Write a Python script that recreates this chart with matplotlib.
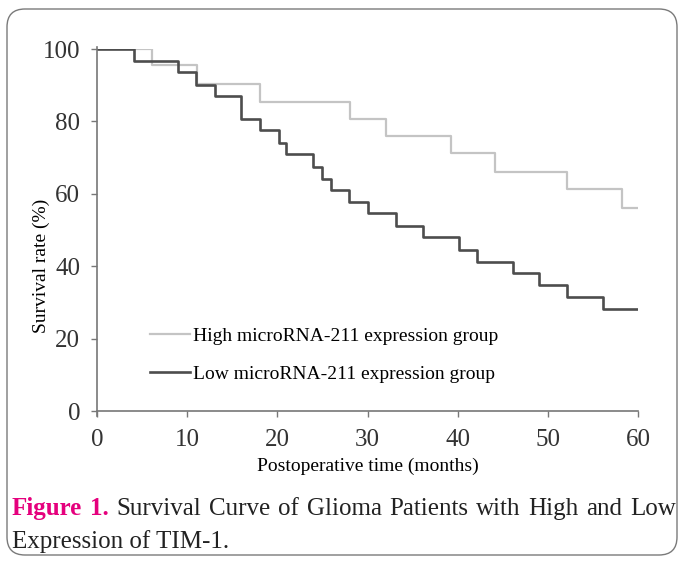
import matplotlib
matplotlib.use('Agg')
import matplotlib.pyplot as plt
from matplotlib.patches import FancyBboxPatch
from matplotlib.transforms import IdentityTransform

# ---- data ----
high_t = [0, 6.1, 11.1, 18.1, 28.1, 32.1, 39.3, 44.1, 52.1, 58.2]
high_s = [100, 95.6, 90.3, 85.4, 80.6, 76.0, 71.2, 66.1, 61.2, 56.2]
low_t = [0, 4.1, 9.0, 11.0, 13.1, 16.0, 18.1, 20.2, 21.0, 24.0, 24.9, 26.0,
         28.0, 30.1, 33.2, 36.1, 40.1, 42.1, 46.1, 49.0, 52.1, 56.1]
low_s = [100, 96.8, 93.6, 90.0, 87.0, 80.7, 77.6, 74.1, 71.0, 67.5, 64.2, 61.0,
         57.8, 54.6, 51.0, 48.0, 44.5, 41.2, 38.0, 34.8, 31.6, 28.1]
end_time = 60
high_label = "High microRNA-211 expression group"
low_label = "Low microRNA-211 expression group"
x_ticks = [0, 10, 20, 30, 40, 50, 60]
y_ticks = [0, 20, 40, 60, 80, 100]
xlabel = "Postoperative time (months)"
ylabel = "Survival rate (%)"
caption_bold = ["Figure", "1."]
caption_line1 = ["Survival", "Curve", "of", "Glioma", "Patients", "with", "High", "and", "Low"]
caption_line2 = "Expression of TIM-1."

plt.rcParams['font.family'] = ['Liberation Serif', 'DejaVu Serif']

W, H = 678, 561
fig = plt.figure(figsize=(W / 100, H / 100), dpi=100)
fig.patch.set_facecolor('white')

ax = fig.add_axes([97 / W, 1 - 411 / H, (638 - 97) / W, (411 - 49) / H])
ax.step(high_t + [end_time], high_s + [high_s[-1]], where='post',
        color='#c4c4c4', lw=1.6, label=high_label)
ax.step(low_t + [end_time], low_s + [low_s[-1]], where='post',
        color='#4d4d4d', lw=1.9, label=low_label)

ax.set_xlim(0, 60)
ax.set_ylim(0, 100)
ax.set_xticks(x_ticks)
ax.set_yticks(y_ticks)
for s in ['top', 'right']:
    ax.spines[s].set_visible(False)
for s in ['left', 'bottom']:
    ax.spines[s].set_color('#777777')
    ax.spines[s].set_linewidth(1.2)
ax.spines['left'].set_bounds(-1.5, 100.5)
ax.tick_params(axis='both', direction='out', length=4, width=1.0,
               color='#777777', labelsize=18, labelcolor='#333333')
ax.tick_params(axis='y', pad=8)
ax.tick_params(axis='x', pad=9)
ax.set_xlabel(xlabel, fontsize=14, labelpad=5)
ax.set_ylabel(ylabel, fontsize=14)
ax.yaxis.set_label_coords(-0.087, 0.40)

ax.legend(loc='center left', bbox_to_anchor=(150 / W, 1 - 355 / H),
          bbox_transform=fig.transFigure, frameon=False, fontsize=14,
          handlelength=2.05, handletextpad=0.15, labelspacing=1.05,
          borderpad=0, borderaxespad=0)

# ---- caption (justified first line) ----
renderer = fig.canvas.get_renderer()
cap_size = 18
pink = '#e5007d'
words = [(w, dict(fontsize=cap_size, fontweight='bold', color=pink)) for w in caption_bold] + \
        [(w, dict(fontsize=cap_size, color='#222222')) for w in caption_line1]
widths = []
for w, kw in words:
    t = fig.text(0, 0, w, **kw)
    widths.append(t.get_window_extent(renderer).width)
    t.remove()
left_px, right_px = 12, 676
gap = (right_px - left_px - sum(widths)) / (len(words) - 1)
x = left_px
base1 = 1 - 515 / H
for (w, kw), wd in zip(words, widths):
    fig.text(x / W, base1, w, ha='left', va='baseline', **kw)
    x += wd + gap
fig.text(left_px / W, 1 - 548 / H, caption_line2, ha='left', va='baseline',
         fontsize=cap_size, color='#222222')

# ---- rounded frame ----
frame = FancyBboxPatch((7, 6), 670, 546, boxstyle='round,pad=0,rounding_size=18',
                       transform=IdentityTransform(), fill=False,
                       edgecolor='#7a7a7a', lw=1.0)
fig.patches.append(frame)

fig.savefig('out.png', dpi=100)
